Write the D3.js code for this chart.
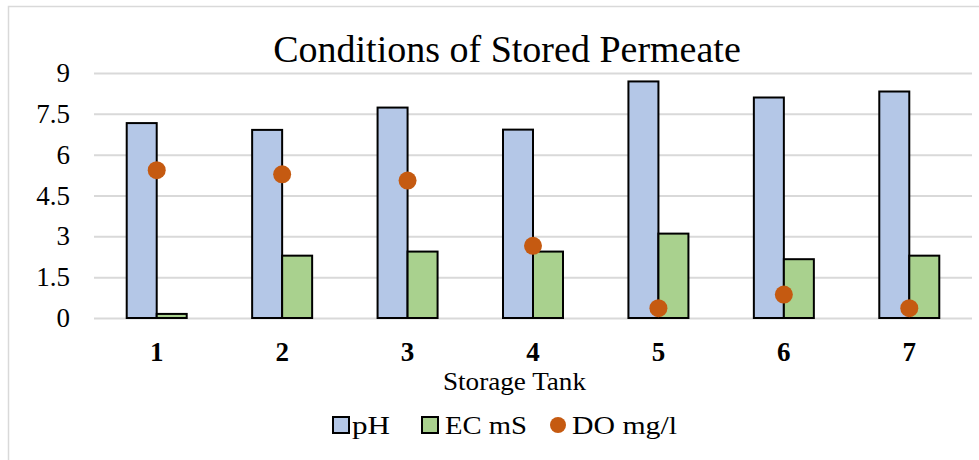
<!DOCTYPE html>
<html>
<head>
<meta charset="utf-8">
<script src="https://cdn.jsdelivr.net/npm/d3@7"></script>
<style>
  body { margin: 0; background: #fff; }
  svg { display: block; font-family: "Liberation Serif", "Times New Roman", serif; }
</style>
</head>
<body>
<div id="chart"></div>
<script>
// chart values
let tanks = ['1', '2', '3', '4', '5', '6', '7'];
let ph = [7.16, 6.91, 7.73, 6.92, 8.69, 8.10, 8.32];
let ec = [0.15, 2.29, 2.44, 2.44, 3.10, 2.16, 2.29];
let dox = [5.43, 5.28, 5.05, 2.65, 0.36, 0.86, 0.36];
let yTicks = [0, 1.5, 3, 4.5, 6, 7.5, 9];
let seriesNames = ['pH', 'EC mS', 'DO mg/l'];

let w = 979;
let h = 460;
let pLeft = 94, pRight = 972, pTop = 73, pBottom = 318;
let barW = 30;
let colPh = '#b4c7e7', colEc = '#a9d18e', colDo = '#c55a11';

let svg = d3.select('#chart')
    .append('svg')
    .attr('width', w)
    .attr('height', h);

svg.append('rect').attr('width', w).attr('height', h).attr('fill', '#fff');
// outer chart border (runs off the right and bottom of the picture)
svg.append('rect')
    .attr('x', 8.5).attr('y', 6.5)
    .attr('width', 1000).attr('height', 500)
    .attr('fill', 'none')
    .attr('stroke', '#d9d9d9')
    .attr('stroke-width', 1.5);

let x = d3.scaleBand().domain(tanks).range([pLeft, pRight]);
let y = d3.scaleLinear().domain([0, 9]).range([pBottom, pTop]);

// y axis + gridlines
let yAxis = d3.axisLeft(y)
    .tickValues(yTicks)
    .tickSize(-(pRight - pLeft))
    .tickPadding(24)
    .tickFormat(d => d);
let gy = svg.append('g').attr('transform', 'translate(' + pLeft + ',0)').call(yAxis);
gy.select('.domain').remove();
gy.selectAll('line').attr('stroke', '#d9d9d9').attr('stroke-width', 2);
gy.selectAll('text')
    .attr('font-size', '27px')
    .attr('font-family', '"Liberation Serif", serif')
    .attr('fill', '#000');

// x axis labels
let xAxis = d3.axisBottom(x).tickSize(0);
let gx = svg.append('g').attr('transform', 'translate(0,' + pBottom + ')').call(xAxis);
gx.select('.domain').remove();
gx.selectAll('text')
    .attr('y', 43)
    .attr('dy', 0)
    .attr('font-size', '27px')
    .attr('font-weight', 'bold')
    .attr('font-family', '"Liberation Serif", serif')
    .attr('fill', '#000');

let cx = d => x(d) + x.bandwidth() / 2;

// pH bars
svg.selectAll('.ph-bar')
    .data(tanks)
    .enter()
    .append('rect')
    .attr('class', 'ph-bar')
    .attr('x', d => cx(d) - barW)
    .attr('y', (d, i) => y(ph[i]))
    .attr('width', barW)
    .attr('height', (d, i) => y(0) - y(ph[i]))
    .attr('fill', colPh)
    .attr('stroke', '#000')
    .attr('stroke-width', 2);

// EC bars
svg.selectAll('.ec-bar')
    .data(tanks)
    .enter()
    .append('rect')
    .attr('class', 'ec-bar')
    .attr('x', d => cx(d))
    .attr('y', (d, i) => y(ec[i]))
    .attr('width', barW)
    .attr('height', (d, i) => y(0) - y(ec[i]))
    .attr('fill', colEc)
    .attr('stroke', '#000')
    .attr('stroke-width', 2);

// DO points
svg.selectAll('.do-dot')
    .data(tanks)
    .enter()
    .append('circle')
    .attr('class', 'do-dot')
    .attr('cx', d => cx(d))
    .attr('cy', (d, i) => y(dox[i]))
    .attr('r', 9)
    .attr('fill', colDo);

// title
svg.append('text')
    .attr('x', 507)
    .attr('y', 62)
    .attr('text-anchor', 'middle')
    .attr('font-size', '38px')
    .attr('fill', '#000')
    .text('Conditions of Stored Permeate');

// x axis title
svg.append('text')
    .attr('x', 514.5)
    .attr('y', 390)
    .attr('text-anchor', 'middle')
    .attr('font-size', '25px')
    .attr('textLength', 143)
    .attr('lengthAdjust', 'spacingAndGlyphs')
    .attr('fill', '#000')
    .text('Storage Tank');

// legend
let legend = svg.append('g');
let legY = 434;
legend.append('rect').attr('x', 333).attr('y', 417).attr('width', 16).attr('height', 16)
    .attr('fill', colPh).attr('stroke', '#000').attr('stroke-width', 2);
legend.append('text').attr('x', 352).attr('y', legY).attr('font-size', '25px')
    .attr('textLength', 38).attr('lengthAdjust', 'spacingAndGlyphs').text(seriesNames[0]);
legend.append('rect').attr('x', 422).attr('y', 417).attr('width', 16).attr('height', 16)
    .attr('fill', colEc).attr('stroke', '#000').attr('stroke-width', 2);
legend.append('text').attr('x', 445).attr('y', legY).attr('font-size', '25px')
    .attr('textLength', 82).attr('lengthAdjust', 'spacingAndGlyphs').text(seriesNames[1]);
legend.append('circle').attr('cx', 558).attr('cy', 425).attr('r', 8).attr('fill', colDo);
legend.append('text').attr('x', 572).attr('y', legY).attr('font-size', '25px')
    .attr('textLength', 105).attr('lengthAdjust', 'spacingAndGlyphs').text(seriesNames[2]);
</script>
</body>
</html>
